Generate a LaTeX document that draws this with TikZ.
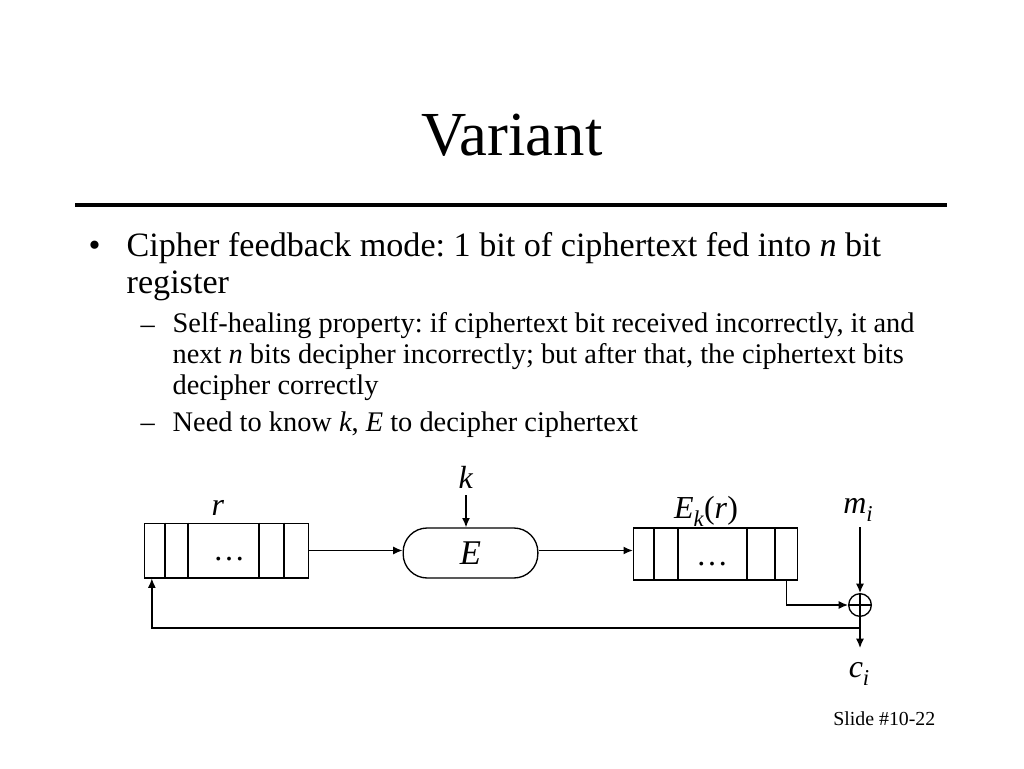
\documentclass[tikz,border=0pt]{standalone}
\usepackage{fontspec}
\setmainfont{Liberation Serif}
\usetikzlibrary{positioning,calc,arrows.meta}
\frenchspacing
\newcommand\lowsub[1]{\raisebox{-0.28em}{\fontsize{17}{20}\selectfont\textit{#1}}}

\begin{document}
\begin{tikzpicture}[x=0.75pt,y=-0.75pt,line width=1pt,>={Latex[length=7pt,width=6pt]}]
  \tikzstyle{txt} = [inner sep=0pt,anchor=base west,align=left]
  \tikzstyle{reg} = [draw,inner sep=0pt,minimum width=123pt]
  \tikzstyle{lbl} = [inner sep=0pt,anchor=base,font=\fontsize{24}{28}\selectfont]
  \useasboundingbox (0,0) rectangle (1024,768);
  % title and rule
  \node [anchor=base,inner sep=0pt,font=\fontsize{47}{56}\selectfont] (title) at (512,155) {Variant};
  \draw [line width=3pt] (75,205) -- (947,205);
  % bullets (multi-line nodes sit on their last line)
  \node [txt,font=\fontsize{25.6}{27.75}\selectfont] (dot1) at (88,256) {•};
  \node [txt,font=\fontsize{25.6}{27.75}\selectfont] (item1) at (126,293)
    {Cipher feedback mode: 1 bit of ciphertext fed into \textit{n} bit\\register};
  \node [txt,font=\fontsize{21.3}{22.9}\selectfont] (dash1) at (140,333) {–};
  \node [txt,font=\fontsize{21.3}{22.9}\selectfont] (item2) at (172,394)
    {Self-healing property: if ciphertext bit received incorrectly, it and\\
     next \textit{n} bits decipher incorrectly; but after that, the ciphertext bits\\
     decipher correctly};
  \node [txt,font=\fontsize{21.3}{22.9}\selectfont] (dash2) at (140,431) {–};
  \node [txt,font=\fontsize{21.3}{22.9}\selectfont] (item3) at (172,431)
    {Need to know \textit{k}, \textit{E} to decipher ciphertext};
  \node [inner sep=0pt,anchor=base east,font=\fontsize{14.9}{17}\selectfont] (slide) at (936,725) {Slide \#10-22};
  % registers, E box and xor
  \node [reg,minimum height=41pt] (regL) at (226.5,550.5) {};
  \foreach \d in {21,44,115,140}
    \draw ($(regL.north west)+(\d,0)$) -- ($(regL.south west)+(\d,0)$);
  \node [lbl] (dotsL) at (229,560) {\dots};
  \node [draw,rounded corners=18pt,minimum width=101pt,minimum height=37.5pt,inner sep=0pt,
         font=\fontsize{26}{30}\selectfont\itshape] (E) at (470.5,553) {E};
  \node [reg,minimum height=39pt] (regR) at (715.5,554) {};
  \foreach \d in {21,45,114,142}
    \draw ($(regR.north west)+(\d,0)$) -- ($(regR.south west)+(\d,0)$);
  \node [lbl] (dotsR) at (712,565) {\dots};
  \node [draw,circle,minimum size=17pt,inner sep=0pt] (xor) at (860,605) {};
  \draw (xor.north) -- (xor.south) (xor.west) -- (xor.east);
  % labels
  \node [lbl] (r) at (218,515) {\textit{r}};
  \node [lbl] (k) at (466,488) {\textit{k}};
  \node [lbl] (Ekr) at (706,518) {\textit{E}\lowsub{k}(\textit{r})};
  \node [lbl] (mi) at (858,513) {\textit{m}\lowsub{i}};
  \node [lbl] (ci) at (859,677) {\textit{c}\lowsub{i}};
  \coordinate (kin) at (466,495);
  \coordinate (min) at (860,527);
  \coordinate (out) at (860,648);
  \coordinate (tap) at (860,628);
  % connectors
  \draw [->] (regL.east) -- (regL.east -| E.west);
  \draw [->] (regL.east -| E.east) -- (regL.east -| regR.west);
  \draw [->] (kin) -- (kin |- E.north);
  \draw [->] ($(regR.south east)+(-12,0)$) |- (xor.west);
  \draw [->] (min) -- (xor.north);
  \draw [->] (xor.south) -- (out);
  \draw [->] (tap) -| ($(regL.south west)+(8,0)$);
\end{tikzpicture}
\end{document}
